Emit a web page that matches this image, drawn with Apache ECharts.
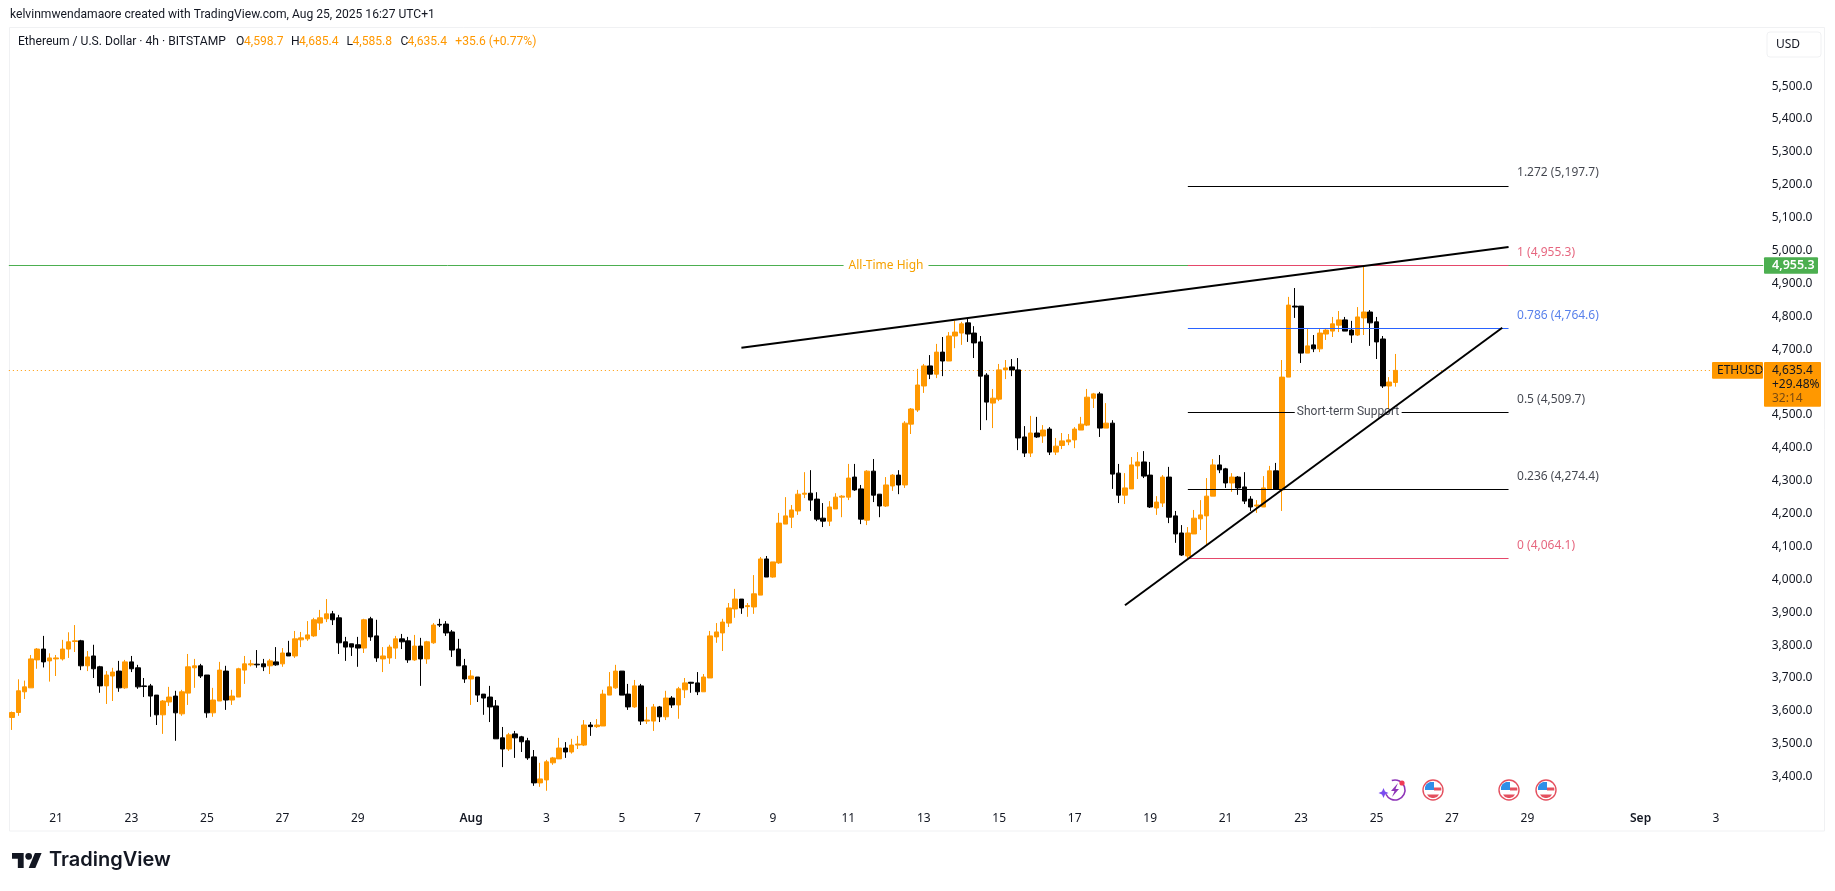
<!DOCTYPE html>
<html><head><meta charset="utf-8">
<style>html,body{margin:0;padding:0;background:#fff}#c{width:1835px;height:891px}</style>
<script src="https://cdn.jsdelivr.net/npm/echarts@6/dist/echarts.min.js"></script>
</head><body><div id="c"></div>
<script>
const opens=[3580,3595,3658,3670,3755,3788,3752,3758,3758,3788,
3811,3813,3737,3767,3734,3676,3706,3721,3670,3749,
3731,3676,3676,3648,3588,3627,3645,3591,3654,3731,
3737,3709,3594,3630,3721,3633,3642,3724,3740,3742,
3743,3737,3749,3743,3776,3767,3816,3819,3828,3867,
3880,3895,3883,3810,3804,3801,3791,3880,3828,3758,
3761,3791,3819,3813,3755,3797,3758,3807,3863,3864,
3840,3788,3737,3697,3703,3651,3642,3615,3518,3484,
3530,3521,3509,3460,3381,3390,3442,3454,3487,3475,
3496,3496,3557,3552,3554,3648,3670,3721,3651,3612,
3676,3569,3569,3612,3582,3639,3618,3664,3687,3685,
3658,3700,3825,3837,3867,3910,3940,3917,3916,3952,
4062,4007,4050,4168,4189,4208,4259,4262,4244,4186,
4177,4214,4250,4250,4311,4275,4180,4329,4259,4223,
4284,4317,4287,4472,4515,4588,4649,4624,4691,4664,
4740,4749,4780,4749,4722,4621,4536,4548,4637,4646,
4637,4433,4384,4445,4436,4457,4387,4407,4418,4424,
4454,4469,4551,4564,4460,4475,4323,4256,4275,4345,
4357,4317,4217,4232,4311,4193,4141,4071,4138,4184,
4193,4253,4348,4336,4293,4311,4281,4244,4223,4220,
4275,4330,4272,4615,4831,4831,4688,4713,4701,4746,
4755,4773,4789,4758,4743,4795,4813,4783,4731,4588,
4598.7];
const closes=[3595,3661,3673,3758,3788,3749,3761,3761,3788,3810,
3813,3737,3764,3728,3676,3709,3718,3670,3749,3728,
3673,3674,3645,3588,3630,3642,3594,3658,3734,3737,
3706,3594,3633,3724,3633,3645,3728,3743,3743,3740,
3734,3752,3740,3776,3767,3819,3822,3831,3877,3883,
3895,3877,3807,3794,3794,3791,3877,3825,3761,3767,
3794,3819,3810,3755,3797,3758,3810,3861,3861,3837,
3785,3737,3697,3706,3648,3639,3612,3515,3484,3527,
3518,3506,3457,3381,3393,3445,3457,3487,3475,3496,
3499,3557,3552,3557,3651,3673,3721,3648,3612,3676,
3569,3572,3612,3582,3639,3618,3667,3685,3684,3658,
3703,3828,3840,3870,3913,3940,3913,3920,3956,4062,
4007,4053,4171,4193,4211,4259,4262,4241,4183,4177,
4220,4250,4253,4308,4272,4183,4329,4256,4223,4287,
4317,4287,4475,4518,4591,4649,4624,4691,4664,4740,
4752,4777,4746,4719,4618,4539,4551,4637,4643,4637,
4430,4384,4445,4433,4454,4387,4405,4421,4424,4457,
4472,4554,4564,4460,4475,4320,4256,4278,4348,4357,
4314,4220,4235,4311,4189,4138,4074,4141,4186,4196,
4253,4348,4333,4293,4311,4278,4238,4220,4226,4278,
4330,4275,4615,4834,4828,4688,4710,4701,4749,4758,
4777,4789,4755,4743,4798,4813,4780,4722,4588,4600,
4635.4];
const lows=[3542,3585,3636,3670,3728,3732,3689,3706,3753,3761,
3779,3724,3721,3700,3655,3621,3630,3658,3667,3718,
3667,3642,3582,3557,3530,3615,3509,3585,3618,3670,
3700,3579,3582,3630,3603,3618,3642,3682,3735,3731,
3721,3712,3737,3734,3767,3761,3794,3813,3825,3846,
3870,3861,3773,3752,3767,3734,3776,3813,3749,3718,
3743,3758,3788,3746,3752,3676,3743,3804,3855,3828,
3764,3737,3685,3618,3627,3588,3566,3515,3429,3478,
3457,3475,3451,3372,3369,3357,3436,3454,3457,3470,
3484,3493,3524,3548,3554,3648,3667,3648,3603,3609,
3557,3560,3539,3566,3572,3609,3576,3639,3655,3648,
3658,3700,3807,3782,3855,3883,3895,3886,3895,3952,
4007,4005,4047,4168,4156,4196,4247,4208,4177,4159,
4162,4214,4189,4241,4269,4168,4165,4235,4189,4220,
4269,4259,4278,4442,4509,4567,4609,4612,4618,4664,
4703,4713,4722,4673,4454,4484,4460,4542,4609,4618,
4393,4372,4372,4430,4415,4378,4378,4396,4408,4399,
4454,4466,4521,4433,4460,4275,4232,4229,4275,4305,
4308,4217,4196,4220,4171,4111,4071,4064.1,4138,4150,
4104,4253,4323,4278,4266,4257,4229,4208,4202,4220,
4272,4272,4208,4615,4795,4658,4688,4691,4691,4728,
4737,4752,4755,4719,4740,4743,4710,4670,4582,4518,
4585.8];
const highs=[3598,3696,3692,3770,3791,3828,3775,3770,3816,3839,
3861,3816,3782,3801,3737,3721,3731,3752,3755,3767,
3740,3700,3682,3648,3633,3673,3661,3664,3773,3758,
3743,3709,3670,3749,3737,3664,3731,3767,3755,3785,
3758,3758,3794,3791,3813,3843,3840,3873,3883,3907,
3940,3904,3892,3825,3804,3825,3880,3886,3877,3794,
3801,3828,3834,3825,3831,3822,3813,3867,3880,3873,
3846,3819,3758,3724,3703,3651,3676,3633,3551,3533,
3539,3524,3518,3481,3442,3451,3460,3518,3505,3515,
3524,3572,3566,3575,3664,3718,3740,3721,3682,3694,
3682,3612,3621,3615,3661,3645,3673,3700,3688,3718,
3712,3843,3867,3880,3928,3971,3940,3928,4013,4068,
4071,4053,4202,4250,4226,4272,4326,4332,4265,4232,
4238,4262,4256,4351,4351,4287,4332,4366,4259,4311,
4320,4332,4481,4521,4640,4655,4682,4716,4737,4752,
4786,4783,4792,4770,4740,4627,4579,4655,4667,4670,
4673,4466,4497,4494,4469,4463,4430,4445,4442,4463,
4494,4579,4567,4570,4536,4484,4351,4323,4372,4387,
4390,4357,4253,4317,4342,4208,4165,4159,4211,4241,
4308,4366,4378,4339,4323,4314,4326,4253,4241,4314,
4345,4354,4667,4859,4886,4831,4764,4743,4764,4764,
4798,4816,4798,4786,4828,4955.3,4819,4798,4740,4615,
4685.4];

const slotCount=279;
const tickSlots=[7,19,31,43,55,73,85,97,109,121,133,145,157,169,181,193,205,217,229,241,259,271];
const tickLabels=['21','23','25','27','29','Aug','3','5','7','9','11','13','15','17','19','21','23','25','27','29','Sep','3'];
const boldTicks=['Aug','Sep'];
const priceMin=3200, priceMax=5700, priceStep=100, firstShownPrice=3400, lastShownPrice=5500;
const coveredPrices=[4600];

const athPrice=4955.3, lastPrice=4635.4;
const fibStartSlot=187, fibEndSlot=238;
const fibRatios=['1.272','1','0.786','0.5','0.236','0'];
const fibPrices=[5197.7,4955.3,4764.6,4509.7,4274.4,4064.1];
const fibColors=['#000000','#e5476a','#2962ff','#000000','#000000','#e5476a'];
const fibTextColors=['#131722','#e0405f','#2f62e6','#131722','#131722','#e0405f'];
const supportGap=[204,221];
const supportSlot=212;
const resistanceLine=[[116,4704],[238,5011]];
const supportLine=[[177,3921],[237,4765]];
const eventMarks=[[220,3359,'spark'],[226,3359,'us'],[238,3359,'us'],[244,3359,'us']];

const FONT='"Noto Sans"', HEAD='Roboto';
const fmt=v=>v.toLocaleString('en-US',{minimumFractionDigits:1,maximumFractionDigits:1});
const categories=Array.from({length:slotCount},(_,i)=>{const k=tickSlots.indexOf(i);return k>=0?'t'+k:'s'+i;});
const ohlc=opens.map((o,i)=>[o,closes[i],lows[i],highs[i]]);

const fibSegments=[];
fibPrices.forEach((p,i)=>{
  if(fibRatios[i]==='0.5'){
    fibSegments.push([fibStartSlot,supportGap[0],p,i],[supportGap[1],fibEndSlot,p,i]);
  } else fibSegments.push([fibStartSlot,fibEndSlot,p,i]);
});
function renderFib(params,api){
  const a=api.coord([api.value(0),api.value(2)]),b=api.coord([api.value(1),api.value(2)]);
  const y=Math.round(a[1])+0.5;
  return {type:'line',silent:true,shape:{x1:a[0],y1:y,x2:b[0],y2:y},style:{stroke:fibColors[api.value(3)],lineWidth:1}};
}
function renderEvent(params,api){
  const p=api.coord([api.value(0),api.value(1)]);
  const kind=eventMarks[params.dataIndex][2];
  const cx=Math.round(p[0]),cy=Math.round(p[1]);
  if(kind==='spark'){
    const ox=cx;
    return {type:'group',silent:true,children:[
      {type:'arc',shape:{cx:ox,cy:cy,r:10,startAngle:-1.9,endAngle:2.7,clockwise:true},style:{stroke:'#8e35b8',lineWidth:1.6,fill:null}},
      {type:'polygon',shape:{points:[[ox+3,cy-7],[ox-4,cy+1],[ox-0.5,cy+1],[ox-3,cy+7],[ox+4,cy-1],[ox+0.5,cy-1]]},style:{fill:'#8e35b8'}},
      {type:'polygon',shape:{points:[[ox-11.5,cy-2],[ox-10,cy+1.5],[ox-6.5,cy+3],[ox-10,cy+4.5],[ox-11.5,cy+8],[ox-13,cy+4.5],[ox-16.5,cy+3],[ox-13,cy+1.5]]},style:{fill:'#7a4cf0'}},
      {type:'circle',shape:{cx:ox+7,cy:cy-7,r:2.6},style:{fill:'#ef3b55'}}
    ]};
  }
  return {type:'group',silent:true,children:[
    {type:'circle',shape:{cx,cy,r:10},style:{fill:'#fff',stroke:'#e4505f',lineWidth:1.4}},
    {type:'polygon',shape:{points:[[cx-8,cy-3],[cx-6.5,cy-6],[cx-3,cy-8],[cx+1,cy-8],[cx+1,cy],[cx-8,cy]]},style:{fill:'#2f8fe8'}},
    {type:'rect',shape:{x:cx+1,y:cy-2.5,width:7.3,height:3},style:{fill:'#e4505f'}},
    {type:'polygon',shape:{points:[[cx-6,cy+4.5],[cx+6,cy+4.5],[cx+4,cy+7],[cx+1,cy+8],[cx-1,cy+8],[cx-4,cy+7]]},style:{fill:'#e4505f'}}
  ]};
}

const chart=echarts.init(document.getElementById('c'),null,{renderer:'canvas'});
const gridTop=20.34, gridHeight=822.06, gridLeft=8.856, gridWidth=1754.35;
const tickText=v=>{const k=categories.indexOf(v);return k>=0&&tickSlots.includes(k)?tickLabels[tickSlots.indexOf(k)]:'';};
chart.setOption({
  animation:false,backgroundColor:'#fff',
  grid:{left:gridLeft,top:gridTop,width:gridWidth,height:gridHeight,containLabel:false},
  tooltip:{show:false},
  xAxis:{type:'category',data:categories,boundaryGap:true,
    axisLine:{show:false},axisTick:{show:false},splitLine:{show:false},
    axisLabel:{show:true,inside:true,interval:0,margin:18,hideOverlap:false,
      color:'#131722',fontFamily:FONT,fontSize:12,
      formatter:v=>{const t=tickText(v);return boldTicks.includes(t)?'{b|'+t+'}':t;},
      rich:{b:{fontWeight:600,fontFamily:FONT,fontSize:12,color:'#131722'}}}},
  yAxis:{type:'value',position:'right',min:priceMin,max:priceMax,interval:priceStep,scale:true,
    axisLine:{show:false},axisTick:{show:false},splitLine:{show:false},
    axisLabel:{show:true,margin:8.5,align:'left',color:'#131722',fontFamily:FONT,fontSize:12,
      formatter:v=>(v>=firstShownPrice&&v<=lastShownPrice&&!coveredPrices.includes(v))?fmt(v):''}},
  series:[
    {type:'line',name:'reference levels',data:[],symbol:'none',silent:true,z:1,
      markLine:{silent:true,symbol:'none',z:1,animation:false,data:[
        {yAxis:athPrice,lineStyle:{color:'#4caf50',width:1,type:'solid'},
          label:{show:true,position:'middle',formatter:'All-Time High',color:'#f5a100',fontFamily:FONT,fontSize:12,
            verticalAlign:'middle',align:'center',backgroundColor:'#fff',padding:[2,5],distance:0}},
        {yAxis:lastPrice,lineStyle:{color:'#ff9800',width:1,type:[1,3]},label:{show:false}}
      ]}},
    {type:'candlestick',name:'ETHUSD',data:ohlc,barWidth:5,z:3,silent:true,
      itemStyle:{color:'#ff9800',color0:'#000000',borderColor:'#ff9800',borderColor0:'#000000',borderWidth:1}},
    {type:'custom',name:'fib levels',data:fibSegments,renderItem:renderFib,z:6,silent:true,clip:false,
      encode:{x:[0,1],y:2}},
    {type:'line',name:'resistance',data:resistanceLine,symbol:'none',silent:true,z:7,lineStyle:{color:'#000',width:2}},
    {type:'line',name:'support',data:supportLine,symbol:'none',silent:true,z:7,lineStyle:{color:'#000',width:2}},
    {type:'scatter',name:'fib labels',symbolSize:1,silent:true,z:8,itemStyle:{color:'rgba(0,0,0,0)'},
      data:fibPrices.map((p,i)=>({value:[fibEndSlot,p],label:{show:true,position:'right',distance:8,offset:[0,-12.5],
        formatter:fibRatios[i]+' ('+fmt(p)+')',color:fibTextColors[i],fontFamily:FONT,fontSize:12}}))},
    {type:'scatter',name:'support label',symbolSize:1,silent:true,z:8,itemStyle:{color:'rgba(0,0,0,0)'},
      data:[{value:[supportSlot,fibPrices[3]],label:{show:true,position:'inside',offset:[3,0],
        formatter:'Short-term Support',color:'#131722',fontFamily:HEAD,fontSize:12}}]},
    {type:'custom',name:'events',data:eventMarks.map(e=>[e[0],e[1]]),renderItem:renderEvent,z:9,silent:true,clip:false}
  ]
});

const py=v=>chart.convertToPixel({yAxisIndex:0},v);
const T=(text,x,y,fill,size,extra)=>({type:'text',x,y,silent:true,
  style:Object.assign({text,fill,font:(size||12)+'px '+FONT,verticalAlign:'middle',align:'left'},extra||{})});
const H=(text,x,fill)=>T(text,x,41.7,fill,12.1,{font:'12.1px '+HEAD});
const DARK='#131722',OR='#ff9800';
const gy=py(athPrice), oy=py(lastPrice);
const L=12,LT=849.7,U=0.8333;
const P=pts=>pts.map(p=>[L+p[0]*U,LT+p[1]*U]);
chart.setOption({graphic:{elements:[
  {type:'rect',silent:true,shape:{x:9.5,y:27.5,width:1815,height:803.5},style:{fill:null,stroke:'#f0f1f3',lineWidth:1}},
  T('kelvinmwendamaore created with TradingView.com, Aug 25, 2025 16:27 UTC+1',10,15,DARK,12.1,{font:'12.1px '+HEAD}),
  H('Ethereum / U.S. Dollar · 4h · BITSTAMP',18,DARK),
  H('O',236,DARK),H('4,598.7',244,OR),
  H('H',291,DARK),H('4,685.4',299,OR),
  H('L',346.5,DARK),H('4,585.8',352.5,OR),
  H('C',400.5,DARK),H('4,635.4',407.5,OR),
  H('+35.6 (+0.77%)',455.3,OR),
  {type:'rect',silent:true,shape:{x:1767,y:32,width:54,height:25,r:3},style:{fill:'#fff',stroke:'#f0f1f3',lineWidth:1}},
  T('USD',1776,45,DARK,12),
  {type:'rect',silent:true,shape:{x:1764,y:gy-8,width:54,height:16.5,r:1},style:{fill:'#4caf50'}},
  T(fmt(athPrice),1772,gy,'#fff',12.5,{font:'600 12.5px '+FONT}),
  {type:'rect',silent:true,shape:{x:1764,y:oy-8.4,width:57,height:44.7,r:1},style:{fill:OR}},
  T(fmt(lastPrice),1772,oy,DARK,12),
  T('+29.48%',1772,oy+14,DARK,12),
  T('32:14',1772,oy+28,'#7a4a10',12),
  {type:'rect',silent:true,shape:{x:1712,y:oy-8.4,width:51,height:16.8,r:1},style:{fill:OR}},
  T('ETHUSD',1717,oy,DARK,12),
  {type:'polygon',silent:true,shape:{points:P([[0,4],[14,4],[14,22],[7,22],[7,11],[0,11]])},style:{fill:DARK}},
  {type:'circle',silent:true,shape:{cx:L+20*U,cy:LT+8*U,r:4*U},style:{fill:DARK}},
  {type:'polygon',silent:true,shape:{points:P([[27.5,4],[35.5,4],[28,22],[20,22]])},style:{fill:DARK}},
  T('TradingView',49,860,DARK,20,{font:'600 20px Inter'})
]}});
</script></body></html>
